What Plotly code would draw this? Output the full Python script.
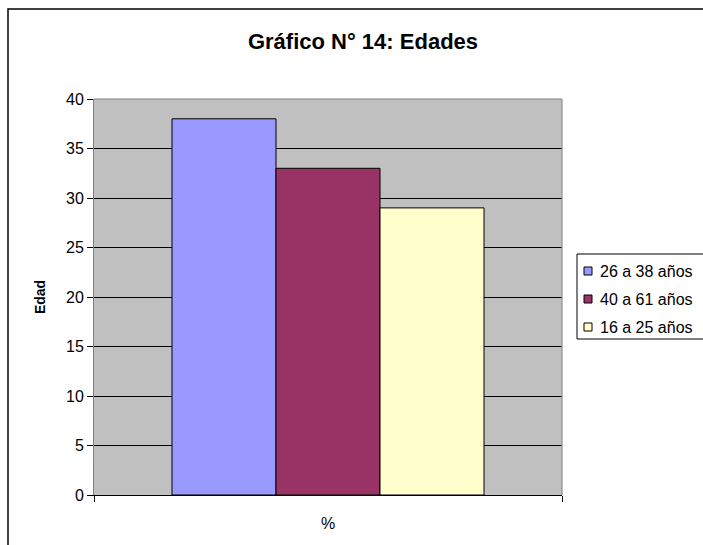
import plotly.graph_objects as go

categories = ["%"]
series_names = ["26 a 38 años", "40 a 61 años", "16 a 25 años"]
series_values = [[38], [33], [29]]
series_colors = ["#9999FF", "#993366", "#FFFFCC"]
y_ticks = [0, 5, 10, 15, 20, 25, 30, 35, 40]

W, H = 703, 545
L, R, T, B = 94, 562, 99, 495
pw, ph = R - L, B - T

def px2x(px):
    return (px - L) / pw

def py2y(py):
    return (B - py) / ph

fig = go.Figure()
for name, vals, col in zip(series_names, series_values, series_colors):
    fig.add_trace(go.Bar(
        x=categories, y=vals, name=name,
        marker=dict(color=col, line=dict(color="black", width=1)),
        showlegend=False,
    ))

font = "Liberation Sans, Arial, sans-serif"
fig.update_layout(
    width=W, height=H,
    margin=dict(l=L, r=W - R, t=T, b=H - B, pad=0, autoexpand=False),
    paper_bgcolor="white",
    plot_bgcolor="#C0C0C0",
    barmode="group",
    bargap=1/3,
    bargroupgap=0,
    font=dict(family=font, size=16, color="black"),
    title=dict(text="<b>Gráfico N° 14: Edades</b>", x=363 / W, xref="container",
               xanchor="center", y=1 - 41 / H, yref="container", yanchor="middle",
               font=dict(family=font, size=22, color="black")),
    xaxis=dict(type="category", showgrid=False, showline=True, linecolor="black", linewidth=1,
               automargin=False,
               ticks="outside", tickson="boundaries", ticklen=6, tickcolor="black",
               ticklabelstandoff=14,
               tickfont=dict(family=font, size=16, color="black")),
    yaxis=dict(range=[0, 40], tickvals=y_ticks, showgrid=True, gridcolor="black", gridwidth=1,
               showline=True, linecolor="#808080", linewidth=1, zeroline=False,
               automargin=False,
               ticks="outside", ticklen=6, tickcolor="black",
               tickfont=dict(family=font, size=16, color="black"),
               title=dict(text="<b>Edad</b>", font=dict(family=font, size=14, color="black"), standoff=17)),
)

# plot area border (gray) - top and right
fig.add_shape(type="line", xref="paper", yref="paper", x0=0, x1=1, y0=1, y1=1,
              line=dict(color="#808080", width=1))
fig.add_shape(type="line", xref="paper", yref="paper", x0=1, x1=1, y0=0, y1=1,
              line=dict(color="#808080", width=1))
# outer chart border
fig.add_shape(type="rect", xref="paper", yref="paper",
              x0=px2x(8), x1=px2x(760), y0=py2y(600), y1=py2y(9),
              line=dict(color="black", width=1.5), fillcolor="rgba(0,0,0,0)", layer="above")

# legend (drawn like the Excel legend)
fig.add_shape(type="rect", xref="paper", yref="paper",
              x0=px2x(577), x1=px2x(760), y0=py2y(339), y1=py2y(254),
              line=dict(color="black", width=1), fillcolor="white", layer="above")
for i, (name, col) in enumerate(zip(series_names, series_colors)):
    cy = 271 + 28 * i
    fig.add_shape(type="rect", xref="paper", yref="paper",
                  x0=px2x(584), x1=px2x(592), y0=py2y(cy + 4), y1=py2y(cy - 4),
                  line=dict(color="black", width=1), fillcolor=col, layer="above")
    fig.add_annotation(text=name, xref="paper", yref="paper", x=px2x(598), y=py2y(cy),
                       xanchor="left", yanchor="middle", showarrow=False,
                       font=dict(family=font, size=16, color="black"))

fig.write_html("out.html", config={"displayModeBar": False},
               post_script="document.body.style.margin='0';")
